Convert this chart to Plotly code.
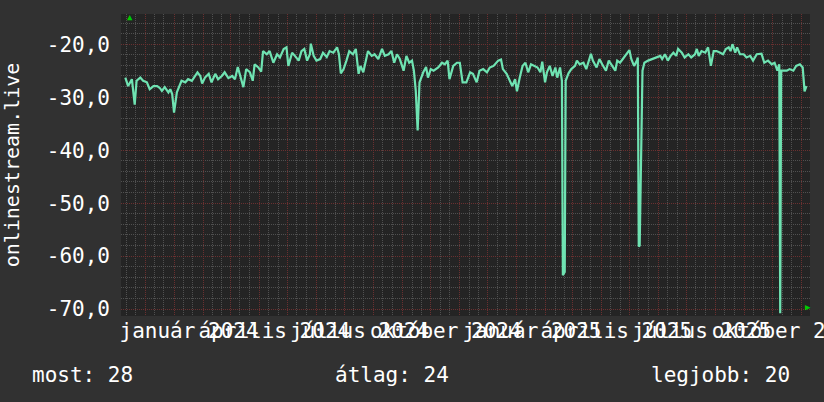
import pandas as pd
import plotly.graph_objects as go

# napi értékek (dátum, dB)
dates = [
    "2023-11-10", "2023-11-13", "2023-11-17", "2023-11-20", "2023-11-22", "2023-11-26",
    "2023-11-29", "2023-12-03", "2023-12-06", "2023-12-10", "2023-12-14", "2023-12-17",
    "2023-12-19", "2023-12-22", "2023-12-26", "2023-12-28", "2023-12-30", "2024-01-01",
    "2024-01-04", "2024-01-07", "2024-01-09", "2024-01-13", "2024-01-16", "2024-01-20",
    "2024-01-23", "2024-01-26", "2024-01-29", "2024-01-31", "2024-02-03", "2024-02-07",
    "2024-02-10", "2024-02-14", "2024-02-17", "2024-02-21", "2024-02-24", "2024-02-28",
    "2024-03-03", "2024-03-06", "2024-03-09", "2024-03-11", "2024-03-15", "2024-03-18",
    "2024-03-22", "2024-03-25", "2024-03-27", "2024-03-31", "2024-04-03", "2024-04-05",
    "2024-04-09", "2024-04-12", "2024-04-16", "2024-04-20", "2024-04-23", "2024-04-27",
    "2024-04-30", "2024-05-02", "2024-05-06", "2024-05-09", "2024-05-13", "2024-05-16",
    "2024-05-19", "2024-05-22", "2024-05-25", "2024-05-26", "2024-05-29", "2024-06-01",
    "2024-06-05", "2024-06-08", "2024-06-12", "2024-06-15", "2024-06-19", "2024-06-23",
    "2024-06-25", "2024-06-27", "2024-06-30", "2024-07-03", "2024-07-06", "2024-07-10",
    "2024-07-13", "2024-07-16", "2024-07-18", "2024-07-21", "2024-07-24", "2024-07-26",
    "2024-07-30", "2024-08-02", "2024-08-06", "2024-08-10", "2024-08-13", "2024-08-17",
    "2024-08-20", "2024-08-23", "2024-08-26", "2024-08-29", "2024-09-02", "2024-09-05",
    "2024-09-08", "2024-09-11", "2024-09-13", "2024-09-15", "2024-09-17", "2024-09-19",
    "2024-09-23", "2024-09-26", "2024-09-28", "2024-10-01", "2024-10-04", "2024-10-09",
    "2024-10-13", "2024-10-16", "2024-10-19", "2024-10-21", "2024-10-25", "2024-10-29",
    "2024-11-01", "2024-11-04", "2024-11-08", "2024-11-12", "2024-11-15", "2024-11-19",
    "2024-11-22", "2024-11-26", "2024-11-30", "2024-12-03", "2024-12-07", "2024-12-12",
    "2024-12-15", "2024-12-17", "2024-12-21", "2024-12-24", "2024-12-27", "2024-12-30",
    "2025-01-01", "2025-01-04", "2025-01-07", "2025-01-10", "2025-01-13", "2025-01-16",
    "2025-01-19", "2025-01-23", "2025-01-26", "2025-01-28", "2025-01-31", "2025-02-02",
    "2025-02-05", "2025-02-08", "2025-02-11", "2025-02-13", "2025-02-16", "2025-02-18",
    "2025-02-19", "2025-02-21", "2025-02-22", "2025-02-25", "2025-02-28", "2025-03-04",
    "2025-03-06", "2025-03-09", "2025-03-13", "2025-03-16", "2025-03-21", "2025-03-23",
    "2025-03-27", "2025-03-30", "2025-04-02", "2025-04-06", "2025-04-09", "2025-04-13",
    "2025-04-16", "2025-04-18", "2025-04-21", "2025-04-24", "2025-04-28", "2025-05-01",
    "2025-05-03", "2025-05-06", "2025-05-09", "2025-05-10", "2025-05-11", "2025-05-12",
    "2025-05-15", "2025-05-17", "2025-05-21", "2025-05-26", "2025-05-30", "2025-06-03",
    "2025-06-05", "2025-06-08", "2025-06-11", "2025-06-14", "2025-06-17", "2025-06-20",
    "2025-06-22", "2025-06-26", "2025-06-29", "2025-07-03", "2025-07-06", "2025-07-10",
    "2025-07-12", "2025-07-14", "2025-07-17", "2025-07-21", "2025-07-24", "2025-07-27",
    "2025-07-30", "2025-08-02", "2025-08-06", "2025-08-09", "2025-08-12", "2025-08-15",
    "2025-08-17", "2025-08-19", "2025-08-22", "2025-08-24", "2025-08-27", "2025-08-31",
    "2025-09-03", "2025-09-07", "2025-09-10", "2025-09-14", "2025-09-19", "2025-09-22",
    "2025-09-26", "2025-09-30", "2025-10-03", "2025-10-06", "2025-10-08", "2025-10-09",
    "2025-10-10", "2025-10-12", "2025-10-16", "2025-10-19", "2025-10-23", "2025-10-26",
    "2025-10-30", "2025-11-02", "2025-11-04", "2025-11-06",
]
values = [
    -26.3, -27.9, -26.6, -31.4, -26.9, -26.3,
    -26.9, -27.2, -28.5, -27.9, -27.9, -28.3,
    -28.8, -28.1, -29.1, -28.5, -29.4, -32.9,
    -29.1, -27.9, -26.9, -27.2, -26.6, -26.9,
    -26.0, -25.3, -26.0, -27.4, -26.3, -25.6,
    -27.2, -25.6, -26.6, -26.0, -25.3, -26.4,
    -26.0, -26.6, -24.3, -25.6, -28.1, -24.7,
    -25.3, -26.9, -23.8, -24.4, -25.2, -21.3,
    -21.9, -21.3, -23.5, -21.9, -22.5, -20.9,
    -20.6, -24.1, -21.6, -22.2, -23.1, -21.3,
    -20.9, -23.1, -21.9, -19.9, -22.2, -23.1,
    -22.8, -21.6, -22.4, -21.3, -21.6, -20.6,
    -21.9, -25.5, -24.7, -23.1, -21.3, -21.9,
    -20.9, -25.6, -24.1, -25.3, -23.1, -21.3,
    -22.2, -21.9, -22.8, -20.9, -22.2, -21.9,
    -21.3, -23.5, -21.9, -22.8, -25.0, -22.2,
    -23.5, -23.1, -25.0, -28.8, -36.3, -27.2,
    -25.3, -24.3, -26.3, -24.7, -25.0, -24.4,
    -23.5, -23.8, -23.1, -26.6, -24.1, -23.5,
    -23.5, -27.2, -27.2, -25.3, -25.6, -27.2,
    -25.0, -24.7, -25.3, -24.4, -24.1, -23.1,
    -22.9, -24.7, -25.6, -26.9, -27.9, -26.6,
    -28.9, -26.3, -24.1, -23.5, -25.3, -23.8,
    -24.1, -24.4, -25.3, -23.3, -27.2, -25.3,
    -24.1, -26.0, -24.4, -26.3, -24.4, -26.9,
    -63.6, -63.0, -26.9, -25.5, -24.7, -24.1,
    -23.1, -23.8, -23.5, -24.7, -21.8, -23.1,
    -24.4, -22.8, -23.8, -25.0, -23.1, -24.1,
    -25.0, -23.1, -23.5, -22.8, -21.9, -21.1,
    -22.8, -24.1, -23.1, -22.5, -58.2, -58.0,
    -25.0, -23.5, -23.1, -22.8, -22.5, -22.2,
    -22.8, -21.9, -23.1, -22.2, -21.6, -22.2,
    -20.9, -21.6, -22.5, -21.9, -22.5, -21.9,
    -20.9, -22.2, -21.3, -21.6, -20.6, -24.1,
    -21.3, -21.3, -21.6, -21.9, -20.9, -20.6,
    -21.3, -20.0, -21.6, -20.6, -21.9, -21.9,
    -22.5, -22.2, -23.1, -21.9, -21.8, -23.5,
    -23.1, -23.8, -23.5, -25.0, -23.8, -70.8,
    -25.0, -25.0, -25.0, -24.7, -25.0, -24.1,
    -23.8, -24.4, -28.9, -27.9,
]

y_ticks = [-70, -60, -50, -40, -30, -20]
y_labels = ["-70,0", "-60,0", "-50,0", "-40,0", "-30,0", "-20,0"]
month_names = {1: "január", 4: "április", 7: "július", 10: "október"}

summary_labels = ["most", "átlag", "legjobb"]
summary_values = [28, 24, 20]

FONT = "DejaVu Sans Mono"
RED = "#6a3030"
GRAY = "#505050"

months = pd.date_range("2023-12-01", "2025-11-01", freq="MS")
month_text = [f"{month_names[m.month]} {m.year}" if m.month in month_names else ""
              for m in months]
minor_days = [m + pd.Timedelta(days=d) for m in pd.date_range("2023-11-01", "2025-11-01", freq="MS")
              for d in (10, 20)]

fig = go.Figure()
fig.add_trace(go.Scatter(
    x=pd.to_datetime(dates), y=values, mode="lines",
    line=dict(color="#6fe3b2", width=2.2), hoverinfo="skip", showlegend=False,
))

fig.update_layout(
    width=824, height=402,
    margin=dict(l=121, r=14, t=14, b=86),
    paper_bgcolor="#313131", plot_bgcolor="#242424",
    font=dict(family=FONT, size=21, color="white"),
    xaxis=dict(
        range=["2023-11-05 09:00", "2025-11-09 19:00"], automargin=False,
        tickvals=months, ticktext=month_text, tickangle=0, ticks="",
        ticklabelshift=15, ticklabelstandoff=0, ticklabeloverflow="allow",
        showgrid=True, gridcolor=RED, griddash="1px,1px", gridwidth=1,
        minor=dict(tickvals=minor_days, showgrid=True, gridcolor=GRAY,
                   griddash="1px,1px", gridwidth=1, ticks=""),
        zeroline=False, showline=False,
    ),
    yaxis=dict(
        range=[-71.3, -14.3], automargin=False,
        tickvals=y_ticks, ticktext=y_labels, ticks="", ticklabelstandoff=10,
        showgrid=True, gridcolor=RED, griddash="1px,1px", gridwidth=1,
        minor=dict(tickvals=[v for v in range(-70, -14, 2) if v % 10 != 0],
                   showgrid=True, gridcolor=GRAY, griddash="1px,1px",
                   gridwidth=1, ticks=""),
        zeroline=False, showline=False,
        title=dict(text="onlinestream.live", standoff=30,
                   font=dict(family=FONT, size=20, color="white")),
    ),
)

# összesítő sor a grafikon alatt
for label, val, xpos in zip(summary_labels, summary_values, [-0.132, 0.307, 0.766]):
    fig.add_annotation(text=f"{label}: {val}", xref="paper", yref="paper",
                       x=xpos, y=-0.195, xanchor="left", yanchor="middle",
                       showarrow=False, font=dict(family=FONT, size=21, color="white"))

# zöld tengely-nyilak
fig.add_annotation(text="▲", xref="paper", yref="paper", x=0.006, y=1.013,
                   showarrow=False, font=dict(size=9, color="#00cc00"))
fig.add_annotation(text="▶", xref="paper", yref="paper", x=1.005, y=0.007,
                   showarrow=False, font=dict(size=9, color="#00cc00"))

fig.write_html("out.html", config={"displayModeBar": False},
               post_script="document.body.style.margin='0';"
                           "document.body.style.background='#313131';")
